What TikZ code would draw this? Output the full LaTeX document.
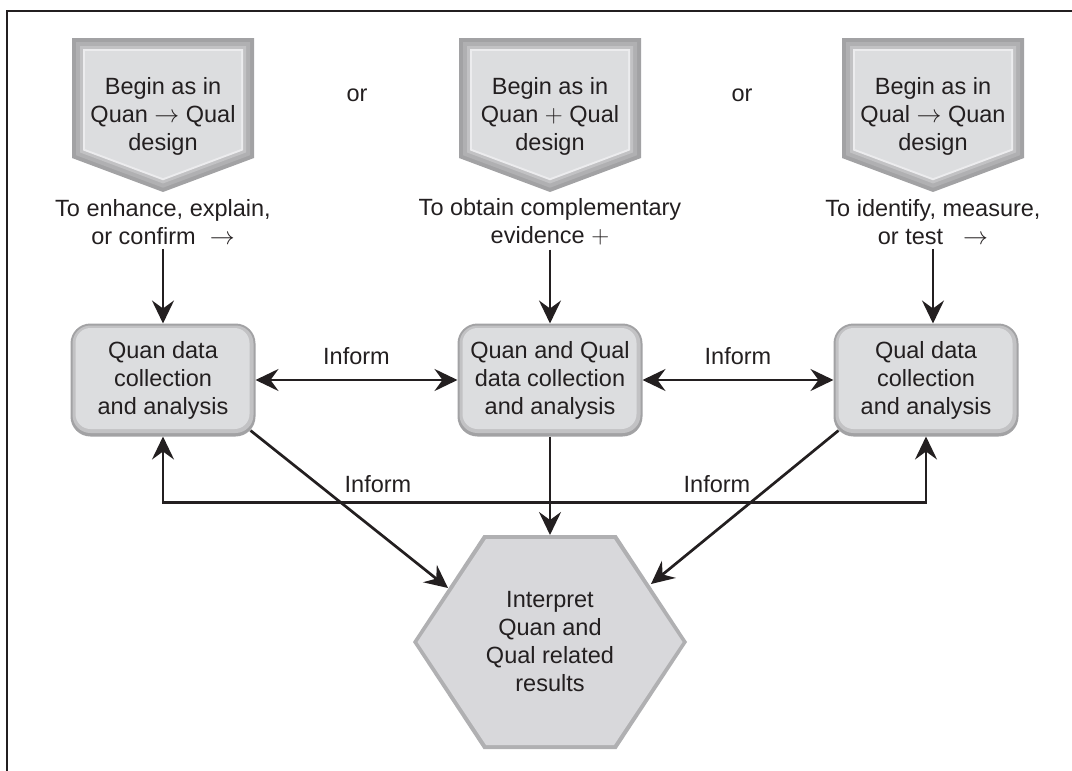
\documentclass[tikz,border=0pt]{standalone}
\usepackage{fontspec}
\setmainfont{Liberation Sans}
\usetikzlibrary{arrows.meta,calc}

\definecolor{ink}{HTML}{231F20}
\definecolor{face}{HTML}{DCDDDF}
\definecolor{bevA}{HTML}{A2A2A4}
\definecolor{bevB}{HTML}{B0B0B2}
\definecolor{bevC}{HTML}{C2C2C4}
\definecolor{bevHi}{HTML}{ECECEE}

% one layer of a downward pointing pentagon, centred at x=#1, inset by #2
\newcommand\pentalayer[3]{%
  \fill[#3] ({#1-91+#2},{38+#2}) -- ({#1+91-#2},{38+#2})
    -- ({#1+91-#2},{158-0.694*#2}) -- (#1,{192-1.068*#2})
    -- ({#1-91+#2},{158-0.694*#2}) -- cycle;}
\newcommand\pentashape[1]{%
  \pentalayer{#1}{0}{bevA}\pentalayer{#1}{4}{bevB}\pentalayer{#1}{8}{bevC}%
  \pentalayer{#1}{11}{bevHi}\pentalayer{#1}{13}{face}}

% bevelled rounded box centred at x=#1
\newcommand\boxshape[1]{%
  \fill[bevA, rounded corners=20pt] ({#1-92.5},323.5) rectangle ({#1+92.5},436.5);
  \fill[bevC, rounded corners=18pt] ({#1-90.5},325.5) rectangle ({#1+90.5},433);
  \fill[face, rounded corners=15pt] ({#1-87.5},328) rectangle ({#1+86.5},429);}

\begin{document}
\begin{tikzpicture}[x=1pt,y=-1pt,
  >={Stealth[length=23pt,width=22pt,inset=8pt]},
  txt/.style={font=\fontsize{23.5}{28}\selectfont, text=ink, align=center, inner sep=0pt},
  lbl/.style={txt, inner sep=4pt},
  boxnode/.style={txt, minimum width=185pt, minimum height=113pt, outer sep=0pt},
  arr/.style={draw=ink, line width=2.7pt},
  frame/.style={draw=ink, line width=1.8pt}]
\useasboundingbox (0,0) rectangle (1072,771);

% frame
\draw[frame] (1072,11) -- (7,11) -- (7,771);

% entry points
\pentashape{163}
\pentashape{550}
\pentashape{933}
\node[txt] (p1) at (163,116) {Begin as in\\Quan $\rightarrow$ Qual\\design};
\node[txt] (p2) at (550,116) {Begin as in\\Quan $+$ Qual\\design};
\node[txt] (p3) at (933,116) {Begin as in\\Qual $\rightarrow$ Quan\\design};
\node[txt] (or1) at (357,95) {or};
\node[txt] (or2) at (742,95) {or};

% purposes
\node[lbl] (l1) at (163,222) {To enhance, explain,\\or confirm\hspace{14pt}$\rightarrow$};
\node[lbl] (l2) at (550,222) {To obtain complementary\\evidence $+$};
\node[lbl] (l3) at (933,222) {To identify, measure,\\or test\hspace{20pt}$\rightarrow$};

% data collection boxes
\boxshape{163}
\boxshape{550}
\boxshape{926}
\node[boxnode] (b1) at (163,380) {Quan data\\collection\\and analysis};
\node[boxnode] (b2) at (550,380) {Quan and Qual\\data collection\\and analysis};
\node[boxnode] (b3) at (926,380) {Qual data\\collection\\and analysis};

% interpretation hexagon
\fill[bevB] (413,642) -- (483.5,535) -- (616.5,535) -- (687,642)
  -- (616.5,749) -- (483.5,749) -- cycle;
\fill[face!98!black] (417.5,642) -- (486,539) -- (614,539) -- (682.5,642)
  -- (614,745) -- (486,745) -- cycle;
\node[txt] (hex) at (550,642) {Interpret\\Quan and\\Qual related\\results};
\coordinate (hexT) at (550,535);
\coordinate (hexUL) at (448,588);
\coordinate (hexUR) at (651,584);

% connectors
\draw[arr,->] (l1.south) -- (b1.north);
\draw[arr,->] (l2.south) -- (b2.north);
\draw[arr,->] (l3.south) -- (l3.south |- b3.north);

\draw[arr,<->] (b1) -- node[txt, above=14pt] (i1) {Inform} (b2);
\draw[arr,<->] (b2) -- node[txt, above=14pt] (i2) {Inform} (b3);

\draw[arr,<->] (b1.south) -- ++(0,66) -| (b3.south);
\node[txt] (i3) at (378,484) {Inform};
\node[txt] (i4) at (717,484) {Inform};

\draw[arr,->] ([shift={(-5,-6)}]b1.south east) -- (hexUL);
\draw[arr,->] ([shift={(5,-6)}]b3.south west) -- (hexUR);
\draw[arr,->] (b2) -- (hexT);
\end{tikzpicture}
\end{document}
